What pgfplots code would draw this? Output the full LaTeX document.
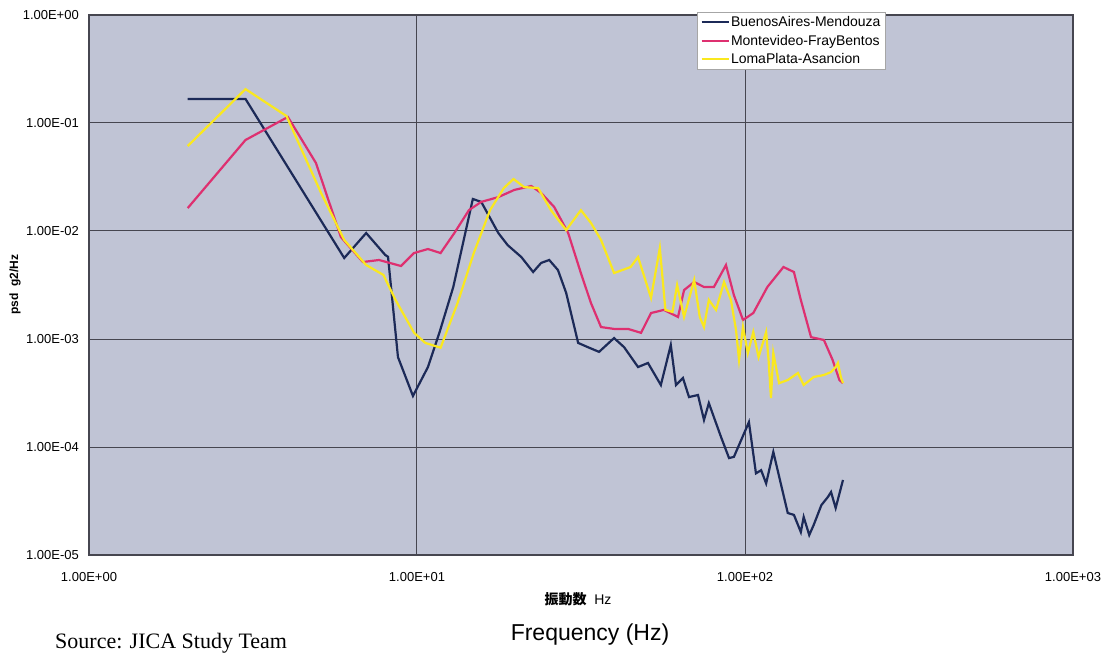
\documentclass[border=0pt]{standalone}
\usepackage{pgfplots}
\pgfplotsset{compat=1.18}
\usepackage{fontspec}
\setmainfont{Liberation Sans}
\newfontfamily\cjk{Noto Sans CJK JP}
\newfontfamily\srcfont{Liberation Serif}
\definecolor{plotbg}{RGB}{192,196,213}
\definecolor{bluel}{RGB}{28,42,88}
\definecolor{pinkl}{RGB}{222,48,112}
\definecolor{yell}{RGB}{250,232,30}
\definecolor{gridc}{RGB}{70,70,80}
\begin{document}
\begin{tikzpicture}
\begin{axis}[
  at={(0pt,0pt)}, anchor=south west,
  scale only axis, width=984pt, height=540pt,
  xmode=log, ymode=log,
  xmin=1, xmax=1000, ymin=1e-5, ymax=1,
  axis background/.style={fill=plotbg},
  axis line style={gridc, line width=1.3pt},
  xtick={1,10,100,1000},
  xticklabels={1.00E+00,1.00E+01,1.00E+02,1.00E+03},
  ytick={1e-5,1e-4,1e-3,1e-2,1e-1,1},
  yticklabels={1.00E-05,1.00E-04,1.00E-03,1.00E-02,1.00E-01,1.00E+00},
  minor xtick={}, minor ytick={},
  xmajorgrids, ymajorgrids,
  major grid style={gridc, line width=1pt},
  major tick length=0pt, minor tick length=0pt,
  tick style={draw=none},
  tick label style={font=\fontsize{13}{15}\selectfont, text=black},
  xticklabel style={inner sep=0pt, yshift=-17pt, anchor=north},
  yticklabel style={inner sep=0pt, xshift=-10pt, anchor=east},
  legend style={at={(0.618,1.0056)}, anchor=north west, draw=gray!70, fill=white,
    line width=0.8pt, font=\fontsize{14}{16}\selectfont, inner xsep=3pt, inner ysep=2.5pt,
    row sep=4pt, nodes={inner sep=1.5pt}},
  legend cell align=left,
  legend image code/.code={\draw[#1, line width=2pt] (0pt,0pt) -- (27pt,0pt);},
]
\addplot[bluel, line width=2.2pt] coordinates {
(2,0.167)(3,0.167)(6,0.00562)(7,0.00958)(8,0.0060)(8.16,0.00577)(8.75,0.00068)(9.72,0.000297)
(10.8,0.00055)(11.7,0.00114)(12.9,0.00303)(14.8,0.0198)(15.7,0.0186)(17.7,0.00958)
(18.9,0.0074)(20.8,0.00574)(22.6,0.00417)(23.9,0.00506)(25.3,0.00539)(26.9,0.00435)
(28.5,0.00267)(31.0,0.00092)(33.2,0.00084)(35.9,0.00076)(39.9,0.00102)(42.8,0.00084)
(47.2,0.00055)(50.6,0.0006)(55.4,0.000375)(59.4,0.00088)(61.6,0.000375)(64.7,0.000435)
(67.5,0.00029)(71.9,0.000303)(75.0,0.000178)(77.6,0.000255)(84.5,0.000124)(89.4,7.9e-5)
(92.5,8.1e-5)(102.8,0.00017)(108,5.7e-5)(112,6.1e-5)(116,4.6e-5)(122,9.0e-5)(135,2.45e-5)
(141,2.35e-5)(148,1.63e-5)(151,2.25e-5)(157,1.53e-5)(162,1.9e-5)(171,2.9e-5)(179,3.45e-5)
(183,3.83e-5)(189,2.72e-5)(199,4.95e-5)
};
\addlegendentry{BuenosAires-Mendouza}
\addplot[pinkl, line width=2.2pt] coordinates {
(2,0.0163)(3,0.0696)(4.04,0.1137)(4.92,0.0426)(5.86,0.0088)(6.84,0.00516)(7.66,0.00539)
(8.94,0.00474)(9.79,0.00625)(10.8,0.00681)(11.8,0.00625)(13.0,0.00958)(14.4,0.0156)
(15.7,0.0186)(17.7,0.0206)(19.8,0.024)(22.3,0.0261)(23.9,0.0225)(26.2,0.0167)(28.9,0.00958)
(31.6,0.00408)(33.9,0.00216)(36.4,0.00129)(39.9,0.00124)(44.0,0.00124)(48.2,0.00114)
(51.7,0.00174)(56.6,0.00186)(62.5,0.0016)(65.2,0.00284)(70.0,0.00337)(75.0,0.00303)
(80.4,0.00303)(87.5,0.00484)(92.5,0.00255)(98.6,0.0015)(106,0.00174)(117,0.00303)
(131,0.00464)(141,0.00417)(148,0.0023)(159,0.00104)(174,0.00098)(185,0.00064)
(194,0.000417)(199,0.00039)
};
\addlegendentry{Montevideo-FrayBentos}
\addplot[yell, line width=2.2pt] coordinates {
(2,0.0612)(3,0.206)(4,0.116)(5.1,0.0225)(6,0.00826)(7,0.00484)(7.9,0.00392)(8.6,0.0023)
(9.8,0.00114)(10.6,0.00092)(11.8,0.00083)(13.3,0.00216)(14.9,0.00625)(16.7,0.0156)
(18.4,0.025)(19.7,0.0303)(21.2,0.0255)(23.4,0.025)(25.6,0.0156)(28.5,0.0102)(31.6,0.0156)
(33.9,0.0119)(36.4,0.00826)(39.9,0.00408)(44.8,0.00464)(47.2,0.00574)(51.7,0.0024)
(55.0,0.00696)(57.2,0.00186)(60.1,0.00178)(62.1,0.00316)(65.2,0.0016)(70.0,0.00352)
(72.8,0.0016)(75.0,0.00129)(77.6,0.0023)(81.6,0.00186)(86.3,0.00337)(90.6,0.0023)
(93.9,0.00121)(95.9,0.00064)(98.6,0.00129)(102,0.00074)(106,0.00116)(110,0.00068)
(116,0.00116)(118,0.00064)(120,0.000284)(122,0.00074)(127,0.00039)(135,0.000417)
(145,0.000484)(151,0.000375)(162,0.000445)(174,0.000464)(183,0.000494)(189,0.00055)
(192,0.0006)(196,0.000445)(199,0.00039)
};
\addlegendentry{LomaPlata-Asancion}
\end{axis}
\node[rotate=90, font=\bfseries\fontsize{12}{14}\selectfont] at (-74pt,270pt) {psd\ \ g2/Hz};
\node[font=\fontsize{14}{16}\selectfont] at (489pt,-44pt) {{\cjk\bfseries 振動数}\ \ Hz};
\node[anchor=base, inner sep=0pt, font=\fontsize{23}{26}\selectfont] at (501pt,-86pt) {Frequency (Hz)};
\node[anchor=base west, inner sep=0pt, font=\srcfont\fontsize{22}{25}\selectfont] at (-34pt,-94pt) {Source: JICA Study Team};
\pgfresetboundingbox
\useasboundingbox (-89pt,-100pt) rectangle (1015pt,555pt);
\end{tikzpicture}
\end{document}
